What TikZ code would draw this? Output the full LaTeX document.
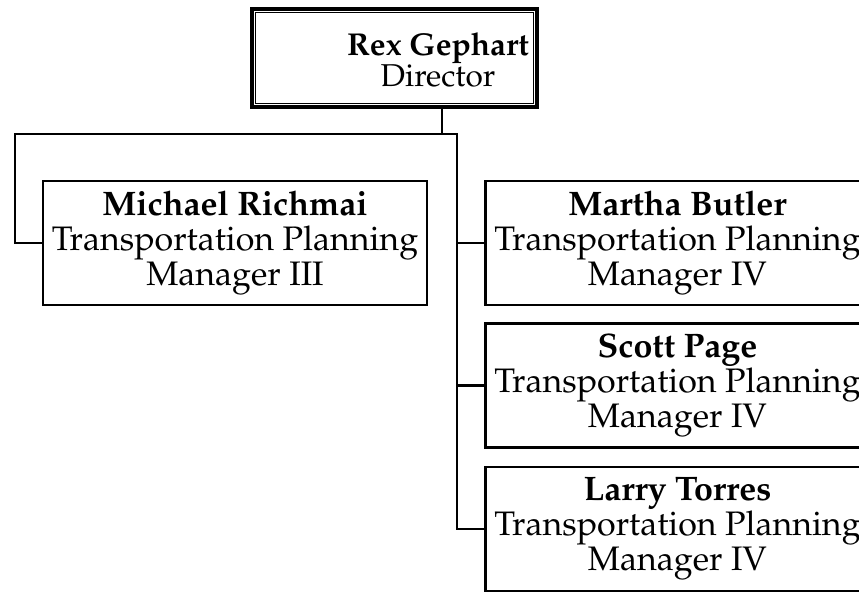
\documentclass[tikz,border=0pt]{standalone}
\usepackage[T1]{fontenc}
\usepackage{mathpazo}
\usetikzlibrary{calc, positioning}

\begin{document}
\begin{tikzpicture}[x=0.5pt, y=-0.5pt, inner sep = 0pt,
  link/.style={line width=1.2pt},
  post/.style={draw, line width=1.2pt, minimum width=192pt, minimum height=62pt, align=center, font=\fontsize{17}{17.5}\selectfont},
  chief/.style={align=center, font=\fontsize{15.8}{15.5}\selectfont}]
\clip (0,0) rectangle (859,593);
\useasboundingbox (0,0) rectangle (859,593);
% director, double frame
\node[minimum width=142.5pt, minimum height=49pt] (bossbox) at (394.5,58) {};
\draw [line width=2pt] (bossbox.north west) rectangle (bossbox.south east);
\draw [line width=0.7pt] ($(bossbox.north west)+(4,4)$) rectangle ($(bossbox.south east)+(-4,-4)$);
\node[chief] (boss) at (438,60) {\textbf{Rex Gephart}\\Director};
% managers
\node[post] (mich) at (235,243) {\textbf{Michael Richmai}\\Transportation Planning\\Manager III};
\node[post] (martha) at (677.5,243) {\textbf{Martha Butler}\\Transportation Planning\\Manager IV};
\node[post] (scott) at (677.5,385.5) {\textbf{Scott Page}\\Transportation Planning\\Manager IV};
\node[post] (larry) at (677.5,529) {\textbf{Larry Torres}\\Transportation Planning\\Manager IV};
% lines
\coordinate (bus) at (442,134);
\coordinate (busL) at (15,134);
\coordinate (busR) at (457,134);
\draw [link] (bossbox.south -| bus) -- (bus);
\draw [link] (mich.west) -| (busL) -- (busR) |- (larry.west);
\draw [link] (busR |- martha.west) -- (martha.west);
\draw [link] (busR |- scott.west) -- (scott.west);
\end{tikzpicture}
\end{document}
